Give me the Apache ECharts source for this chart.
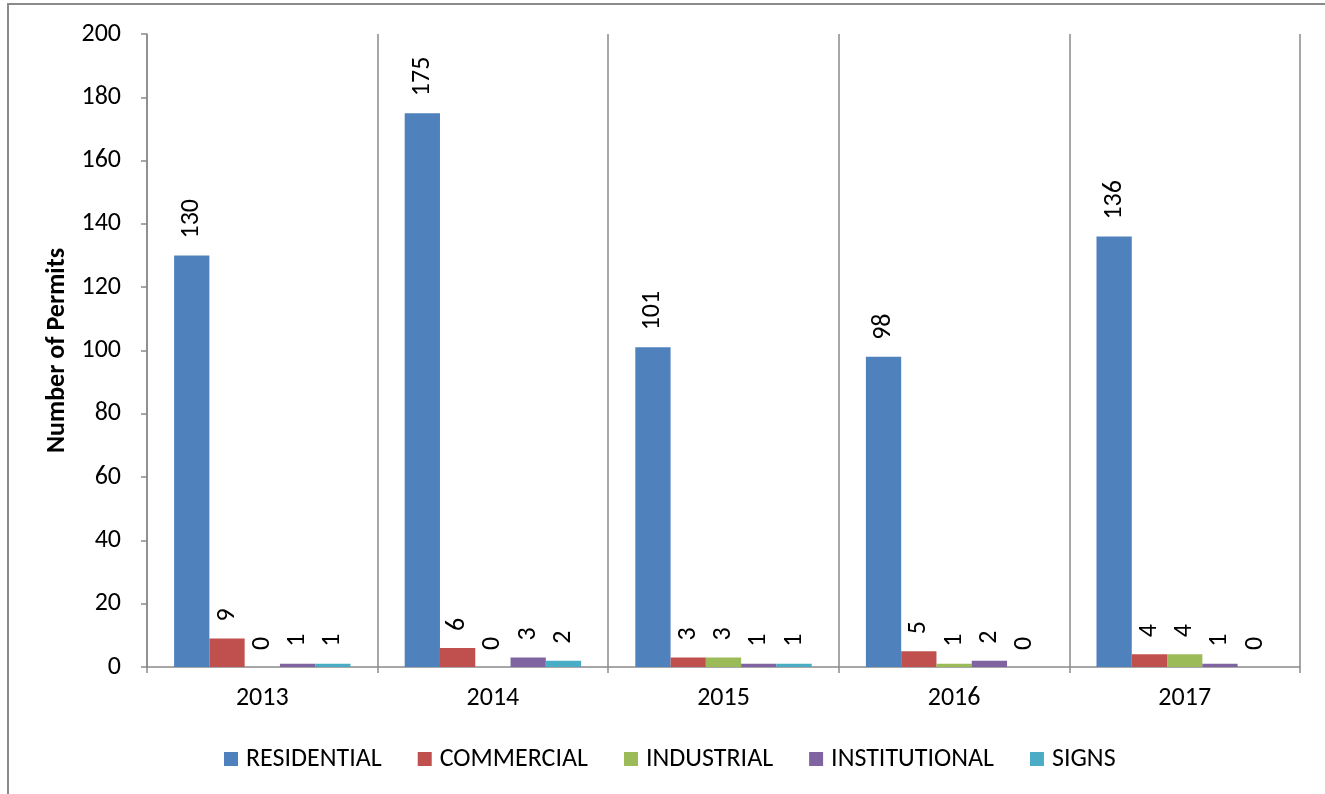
<!DOCTYPE html>
<html>
<head>
<meta charset="utf-8">
<script src="https://cdn.jsdelivr.net/npm/echarts@6/dist/echarts.min.js"></script>
<style>
html,body{margin:0;padding:0;background:#fff;}
#chart{width:1325px;height:794px;}
</style>
</head>
<body>
<div id="chart"></div>
<script>
const years = ['2013', '2014', '2015', '2016', '2017'];
const residential = [130, 175, 101, 98, 136];
const commercial = [9, 6, 3, 5, 4];
const industrial = [0, 0, 3, 1, 4];
const institutional = [1, 3, 1, 2, 1];
const signs = [1, 2, 1, 0, 0];
const yTicks = [0, 20, 40, 60, 80, 100, 120, 140, 160, 180, 200];

const FONT = 'Carlito, Lato, sans-serif';
const GRAY = '#8a8a8a';

const seriesDefs = [
  {name: 'RESIDENTIAL', data: residential, color: '#4F81BD'},
  {name: 'COMMERCIAL', data: commercial, color: '#C0504D'},
  {name: 'INDUSTRIAL', data: industrial, color: '#9BBB59'},
  {name: 'INSTITUTIONAL', data: institutional, color: '#8064A2'},
  {name: 'SIGNS', data: signs, color: '#4BACC6'}
];

const chart = echarts.init(document.getElementById('chart'), null, {renderer: 'canvas'});
chart.setOption({
  animation: false,
  backgroundColor: '#fff',
  textStyle: {fontFamily: FONT},
  graphic: [{
    type: 'rect',
    shape: {x: 8, y: 4, width: 1500, height: 1000},
    style: {fill: 'none', stroke: GRAY, lineWidth: 2},
    silent: true,
    z: -1
  }],
  grid: {left: 147, right: 25, top: 34, bottom: 127, containLabel: false},
  legend: {
    left: 224,
    top: 746,
    padding: 0,
    icon: 'rect',
    itemWidth: 14,
    itemHeight: 14,
    itemGap: 36,
    textStyle: {fontFamily: FONT, fontSize: 26, color: '#000', padding: [0, 0, 0, 3]},
    data: seriesDefs.map(s => s.name)
  },
  xAxis: {
    type: 'category',
    data: years,
    boundaryGap: true,
    axisLine: {show: true, lineStyle: {color: GRAY, width: 1.5}},
    axisTick: {show: true, length: 6, interval: 0, lineStyle: {color: GRAY, width: 1.5}},
    splitLine: {show: true, interval: 0, lineStyle: {color: GRAY, width: 1.5}},
    axisLabel: {fontFamily: FONT, fontSize: 26, color: '#000', margin: 18, interval: 0}
  },
  yAxis: {
    type: 'value',
    min: 0,
    max: 200,
    interval: 20,
    name: 'Number of Permits',
    nameLocation: 'middle',
    nameRotate: 90,
    nameGap: 76,
    nameTextStyle: {fontFamily: FONT, fontSize: 26, fontWeight: 'bold', color: '#000'},
    axisLine: {show: true, lineStyle: {color: GRAY, width: 1.5}},
    axisTick: {show: true, length: 6, lineStyle: {color: GRAY, width: 1.5}},
    splitLine: {show: false},
    axisLabel: {fontFamily: FONT, fontSize: 26, color: '#000', margin: 26,
      formatter: v => yTicks.includes(v) ? String(v) : ''}
  },
  series: seriesDefs.map(s => ({
    name: s.name,
    type: 'bar',
    data: s.data,
    barGap: '0%',
    barCategoryGap: '23.5%',
    itemStyle: {color: s.color},
    label: {
      show: true,
      position: 'top',
      rotate: 90,
      align: 'left',
      verticalAlign: 'middle',
      distance: 17,
      fontFamily: FONT,
      fontSize: 26,
      color: '#000'
    }
  }))
});
</script>
</body>
</html>
